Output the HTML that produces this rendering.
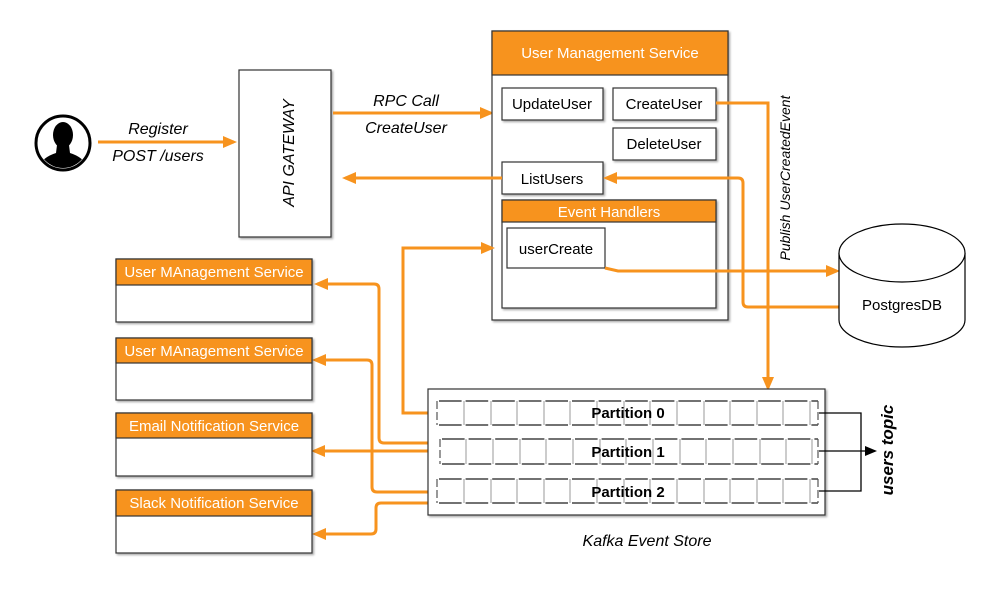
<!DOCTYPE html>
<html><head><meta charset="utf-8"><style>
html,body{margin:0;padding:0;background:#fff;}
svg{display:block;font-family:"Liberation Sans",sans-serif;}
</style></head><body>
<svg width="1000" height="600" viewBox="0 0 1000 600" xmlns="http://www.w3.org/2000/svg">
<defs>
<marker id="ah" markerWidth="14" markerHeight="14" refX="11" refY="7" orient="auto" markerUnits="userSpaceOnUse">
<path d="M0,1 L14,7 L0,13 z" fill="#f7931e"/></marker>
<marker id="ab" markerWidth="12" markerHeight="12" refX="10" refY="6" orient="auto" markerUnits="userSpaceOnUse">
<path d="M0,1 L12,6 L0,11 z" fill="#000"/></marker>
<filter id="sh" x="-5%" y="-5%" width="110%" height="110%"><feDropShadow dx="1.5" dy="1.5" stdDeviation="1" flood-opacity="0.35"/></filter>
</defs>

<!-- person -->
<circle cx="63" cy="143" r="27" fill="#fff" stroke="#000" stroke-width="3"/>
<clipPath id="pc"><circle cx="63" cy="143" r="25"/></clipPath>
<g clip-path="url(#pc)" fill="#000">
<ellipse cx="63" cy="135" rx="10" ry="13"/>
<path d="M57,145 L69,145 L70,153 Q86,158 90,172 L36,172 Q40,158 56,153 z"/>
</g>

<!-- register arrow -->
<line x1="98" y1="142" x2="234" y2="142" stroke="#f7931e" stroke-width="3" marker-end="url(#ah)"/>
<text x="158" y="134" font-size="16" font-style="italic" text-anchor="middle">Register</text>
<text x="158" y="161" font-size="16" font-style="italic" text-anchor="middle">POST /users</text>

<!-- api gateway -->
<rect x="239" y="70" width="92" height="167" fill="#fff" stroke="#333" stroke-width="1.2" filter="url(#sh)"/>
<text transform="translate(294,153) rotate(-90)" font-size="16" font-style="italic" text-anchor="middle">API GATEWAY</text>

<!-- rpc arrow -->
<line x1="333" y1="113" x2="491" y2="113" stroke="#f7931e" stroke-width="3" marker-end="url(#ah)"/>
<text x="406" y="106" font-size="16" font-style="italic" text-anchor="middle">RPC Call</text>
<text x="406" y="133" font-size="16" font-style="italic" text-anchor="middle">CreateUser</text>

<!-- UMS -->
<rect x="492" y="31" width="236" height="289" fill="#fff" stroke="#333" stroke-width="1.2" filter="url(#sh)"/>
<rect x="492" y="31" width="236" height="44" fill="#f7931e" stroke="#333" stroke-width="1.2"/>
<text x="610" y="58" font-size="15" fill="#fff" text-anchor="middle">User Management Service</text>
<g stroke="#333" stroke-width="1.2" fill="#fff" filter="url(#sh)">
<rect x="502" y="88" width="101" height="32"/>
<rect x="613" y="88" width="103" height="32"/>
<rect x="613" y="128" width="103" height="32"/>
<rect x="502" y="162" width="101" height="32"/>
<rect x="502" y="200" width="214" height="108"/>
</g>
<rect x="502" y="200" width="214" height="22" fill="#f7931e" stroke="#333" stroke-width="1.2"/>
<rect x="507" y="228" width="98" height="40" fill="#fff" stroke="#333" stroke-width="1.2"/>
<g font-size="15" text-anchor="middle">
<text x="552" y="109">UpdateUser</text>
<text x="664" y="109">CreateUser</text>
<text x="664" y="149">DeleteUser</text>
<text x="552" y="184">ListUsers</text>
<text x="609" y="217" fill="#fff">Event Handlers</text>
<text x="556" y="254">userCreate</text>
</g>

<!-- connectors UMS -->
<g fill="none" stroke="#f7931e" stroke-width="3">
<line x1="502" y1="178" x2="345" y2="178" marker-end="url(#ah)"/>
<path d="M716,103 L768,103 L768,388" marker-end="url(#ah)"/>
<path d="M839,307 L748,307 Q743,307 743,302 L743,183 Q743,178 738,178 L606,178" marker-end="url(#ah)"/>
<path d="M605,268 L618,271 L837,271" marker-end="url(#ah)"/>
<path d="M437,413 L403,413 L403,248 L492,248" marker-end="url(#ah)"/>
<path d="M428,443 L384,443 Q379,443 379,438 L379,289 Q379,284 374,284 L317,284" marker-end="url(#ah)"/>
<path d="M428,451 L314,451" marker-end="url(#ah)"/>
<path d="M437,492 L377,492 Q372,492 372,487 L372,365 Q372,360 367,360 L315,360" marker-end="url(#ah)"/>
<path d="M437,503 L381,503 Q376,503 376,508 L376,529 Q376,534 371,534 L315,534" marker-end="url(#ah)"/>
</g>
<text transform="translate(790,178) rotate(-90)" font-size="14" font-style="italic" text-anchor="middle">Publish UserCreatedEvent</text>

<!-- postgres -->
<path d="M839,253 L839,320 A63,27 0 0 0 965,320 L965,253" fill="#fff" stroke="#000" stroke-width="1.2"/>
<ellipse cx="902" cy="253" rx="63" ry="29" fill="#fff" stroke="#000" stroke-width="1.2"/>
<text x="902" y="310" font-size="15" text-anchor="middle">PostgresDB</text>

<!-- left services -->
<g stroke="#333" stroke-width="1.2" filter="url(#sh)">
<rect x="116" y="259" width="196" height="63" fill="#fff"/>
<rect x="116" y="338" width="196" height="62" fill="#fff"/>
<rect x="116" y="413" width="196" height="63" fill="#fff"/>
<rect x="116" y="490" width="196" height="63" fill="#fff"/>
</g>
<g stroke="#333" stroke-width="1.2" fill="#f7931e">
<rect x="116" y="259" width="196" height="26"/>
<rect x="116" y="338" width="196" height="25"/>
<rect x="116" y="413" width="196" height="25"/>
<rect x="116" y="490" width="196" height="26"/>
</g>
<g font-size="15" fill="#fff" text-anchor="middle">
<text x="214" y="277">User MAnagement Service</text>
<text x="214" y="356">User MAnagement Service</text>
<text x="214" y="431">Email Notification Service</text>
<text x="214" y="508">Slack Notification Service</text>
</g>

<!-- kafka -->
<rect x="428" y="389" width="397" height="126" fill="#fff" stroke="#333" stroke-width="1.2" filter="url(#sh)"/>
<g stroke="#ccc" stroke-width="2">
<path d="M464,401v24M491,401v24M517,401v24M544,401v24M570,401v24M597,401v24M624,401v24M650,401v24M677,401v24M704,401v24M730,401v24M757,401v24M783,401v24M810,401v24"/>
<path d="M466,439v25M493,439v25M520,439v25M546,439v25M573,439v25M600,439v25M626,439v25M653,439v25M680,439v25M706,439v25M733,439v25M760,439v25M786,439v25M812,439v25"/>
<path d="M464,479v24M491,479v24M517,479v24M544,479v24M570,479v24M597,479v24M624,479v24M650,479v24M677,479v24M704,479v24M730,479v24M757,479v24M783,479v24M810,479v24"/>
</g>
<g fill="none" stroke="#444" stroke-width="1.6" stroke-dasharray="22.6 4" stroke-dashoffset="24.6">
<path d="M437,401 H818 M437,425 H818 M440,439 H818 M440,464 H818 M437,479 H818 M437,503 H818"/>
</g>
<g fill="none" stroke="#555" stroke-width="1.2" stroke-dasharray="8 3">
<path d="M437,401 V425 M818,401 V425 M440,439 V464 M818,439 V464 M437,479 V503 M818,479 V503"/>
</g>
<g font-size="15" font-weight="bold" text-anchor="middle">
<text x="628" y="418">Partition 0</text>
<text x="628" y="457">Partition 1</text>
<text x="628" y="497">Partition 2</text>
</g>
<g fill="none" stroke="#000" stroke-width="1.3">
<path d="M819,413 L861,413 L861,491 L819,491"/>
<line x1="819" y1="451" x2="875" y2="451" marker-end="url(#ab)"/>
</g>
<text transform="translate(893,450) rotate(-90)" font-size="17" font-weight="bold" font-style="italic" text-anchor="middle">users topic</text>
<text x="647" y="546" font-size="16" font-style="italic" text-anchor="middle">Kafka Event Store</text>
</svg>
</body></html>
